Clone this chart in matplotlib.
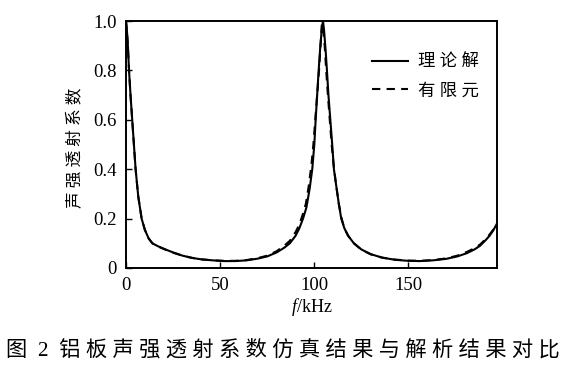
import matplotlib
matplotlib.use("Agg")
import matplotlib.pyplot as plt
from matplotlib.ticker import FixedLocator, FuncFormatter

plt.rcParams['font.family'] = ['Liberation Serif', 'Noto Sans CJK SC']
plt.rcParams['mathtext.fontset'] = 'custom'
plt.rcParams['mathtext.it'] = 'Liberation Serif:italic'
plt.rcParams['mathtext.rm'] = 'Liberation Serif'

# theoretical solution
f_theory = [0, 0.5, 1, 1.6, 2.4, 3.3, 4.2, 5.1, 6.5, 8.3, 10, 12, 14, 17, 21, 25,
            30, 35, 40, 46, 52, 58, 64, 70, 75, 80, 84, 87, 90, 92, 94, 95.8,
            97.5, 98.9, 100, 100.7, 101.5, 102.3, 103.2, 104, 104.6, 105.2, 106,
            106.7, 107.5, 108.5, 109.5, 110.4, 111.5, 113, 114.3, 116, 118, 121,
            125, 130, 136, 143, 150, 156, 163, 170, 176, 181, 185, 188, 191, 193,
            195, 197]
tau_theory = [1.0, 0.96, 0.9, 0.8, 0.7, 0.6, 0.5, 0.4, 0.29, 0.2, 0.155, 0.12, 0.1,
              0.088, 0.075, 0.063, 0.05, 0.041, 0.035, 0.031, 0.028, 0.028, 0.031,
              0.038, 0.047, 0.063, 0.082, 0.1, 0.13, 0.16, 0.2, 0.245, 0.32, 0.4,
              0.5, 0.6, 0.7, 0.8, 0.9, 0.97, 1.0, 0.96, 0.88, 0.8, 0.7, 0.6, 0.5,
              0.4, 0.34, 0.26, 0.2, 0.16, 0.13, 0.1, 0.075, 0.056, 0.042, 0.033,
              0.029, 0.028, 0.031, 0.037, 0.047, 0.06, 0.075, 0.09, 0.113, 0.13,
              0.152, 0.18]

# finite element results
f_fem = [0, 0.5, 1, 1.6, 2.4, 3.3, 4.2, 5.1, 6.5, 8.3, 10, 12, 14, 17, 21, 25,
         30, 35, 40, 46, 52, 58, 64, 70, 75, 80, 84, 87, 90, 92, 94, 95.5, 97,
         98.5, 99.5, 100.5, 101.5, 102.5, 103.3, 104, 104.7, 105.5, 106.3, 107.2,
         108.2, 109.2, 110.2, 111.5, 113, 114.5, 116, 118, 121, 125, 130, 136,
         143, 150, 156, 163, 170, 176, 181, 185, 188, 191, 193, 195, 197]
tau_fem = [1.0, 0.96, 0.9, 0.8, 0.7, 0.6, 0.5, 0.4, 0.29, 0.2, 0.155, 0.12, 0.1,
           0.087, 0.074, 0.062, 0.05, 0.041, 0.035, 0.031, 0.029, 0.029, 0.032,
           0.04, 0.05, 0.068, 0.09, 0.11, 0.145, 0.175, 0.22, 0.26, 0.33, 0.42,
           0.5, 0.6, 0.7, 0.8, 0.9, 0.99, 0.97, 0.9, 0.8, 0.7, 0.6, 0.5, 0.42,
           0.34, 0.26, 0.2, 0.16, 0.13, 0.1, 0.074, 0.055, 0.042, 0.034, 0.03,
           0.029, 0.032, 0.039, 0.05, 0.065, 0.08, 0.095, 0.117, 0.135, 0.155, 0.18]

x_ticks = [0, 50, 100, 150]
y_ticks = [0, 0.2, 0.4, 0.6, 0.8, 1.0]

fig = plt.figure(figsize=(5.66, 3.71), dpi=100)
ax = fig.add_axes([126 / 566, 1 - 268 / 371, 371 / 566, 247 / 371])

ax.plot(f_theory, tau_theory, color='black', lw=1.5, label='理 论 解')
ax.plot(f_fem, tau_fem, color='black', lw=1.5, linestyle=(0, (4, 3)), label='有 限 元')

ax.set_xlim(0, 197)
ax.set_ylim(0, 1.0)
ax.xaxis.set_major_locator(FixedLocator(x_ticks))
ax.yaxis.set_major_locator(FixedLocator(y_ticks))
ax.yaxis.set_major_formatter(FuncFormatter(lambda v, p: '0' if v == 0 else f'{v:.1f}'))
ax.tick_params(direction='in', length=4, width=1, labelsize=13.5, pad=6.5)
for s in ax.spines.values():
    s.set_linewidth(1.4)

ax.legend(loc='upper left', bbox_to_anchor=(372 / 566, 1 - 55 / 371),
          bbox_transform=fig.transFigure, frameon=False, fontsize=12.5,
          handlelength=2.1, handletextpad=0.55, borderpad=0, borderaxespad=0,
          labelspacing=0.7)

fig.text(76 / 566, 1 - 147.5 / 371, '声 强 透 射 系 数', rotation=90,
         ha='center', va='center', fontsize=12)
fig.text(311.5 / 566, 1 - 307 / 371, '$f$/kHz', ha='center', va='center', fontsize=13)
fig.text(283 / 566, 1 - 350 / 371, '图  2  铝 板 声 强 透 射 系 数 仿 真 结 果 与 解 析 结 果 对 比',
         ha='center', va='center', fontsize=15.3)

fig.savefig('out.png', dpi=100)
